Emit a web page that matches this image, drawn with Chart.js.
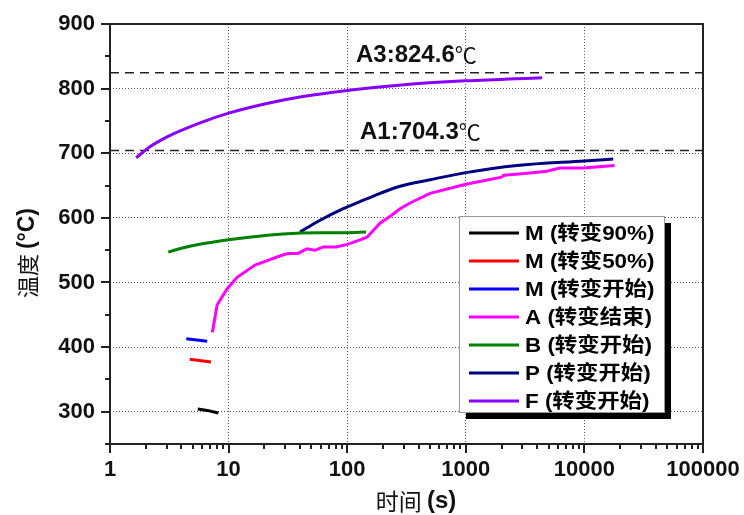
<!DOCTYPE html>
<html>
<head>
<meta charset="utf-8">
<script src="https://cdn.jsdelivr.net/npm/chart.js@4.4.1/dist/chart.umd.min.js"></script>
<style>
html, body { margin: 0; padding: 0; background: #fff; }
#wrap { width: 744px; height: 515px; }
</style>
</head>
<body>
<div id="wrap"><canvas id="c"></canvas></div>
<script>
// tick labels
const xTicks = [1, 10, 100, 1000, 10000, 100000];
const yTicks = [300, 400, 500, 600, 700, 800, 900];

// critical temperatures
const A3 = 824.6;
const A1 = 704.3;

// series (time s, temperature °C)
const m90Time = [5.5, 6.6, 8.2];
const m90Temp = [304, 302, 298];
const m50Time = [4.7, 7.1];
const m50Temp = [381, 377];
const msTime = [4.4, 6.6];
const msTemp = [413, 409];
const aTime = [7.3, 8.0, 9.7, 11.8, 16.7, 22, 27, 31.8, 38.5, 45.7, 53.7, 63, 81, 100, 120, 147, 190, 229, 279, 339, 500, 1000, 2000, 2100, 3300, 4800, 6200, 9800, 18000];
const aTemp = [423, 465, 490, 508, 527, 535, 541, 545, 545, 552, 550, 555, 555, 559, 564, 570, 592, 602, 614, 623, 638, 652, 663, 666, 669, 672, 677, 677, 681];
const bTime = [3.1, 4, 5.7, 10, 15, 28.7, 56, 100, 144];
const bTemp = [547, 553, 559, 566, 570, 575, 577, 577, 578];
const pTime = [40, 56, 87, 128, 190, 279, 500, 1000, 2700, 10000, 17500];
const pTemp = [578, 594, 612, 625, 638, 649, 659, 670, 681, 688, 691];
const fTime = [1.66, 2.17, 3.0, 5.75, 10, 21, 40, 100, 300, 1000, 4400];
const fTemp = [693, 710, 725, 747, 762, 777, 787, 797, 806, 812, 817];

const labels = ['M (转变90%)', 'M (转变50%)', 'M (转变开始)', 'A (转变结束)', 'B (转变开始)', 'P (转变开始)', 'F (转变开始)'];
const colors = ['#000000', '#ff0000', '#0000ff', '#ff00ff', '#008000', '#000080', '#8800ff'];
const times = [m90Time, m50Time, msTime, aTime, bTime, pTime, fTime];
const temps = [m90Temp, m50Temp, msTemp, aTemp, bTemp, pTemp, fTemp];

const pts = (xs, ys) => xs.map((x, i) => ({ x: x, y: ys[i] }));

const datasets = labels.map((lab, i) => ({
    label: lab,
    data: pts(times[i], temps[i]),
    borderColor: colors[i],
    borderWidth: 3,
    pointRadius: 0,
    fill: false,
    tension: 0,
    cubicInterpolationMode: (i === 5 || i === 6 || i === 4) ? 'monotone' : 'default'
}));

// dashed A3 / A1 lines
[A3, A1].forEach(v => {
    datasets.push({
        label: 'crit',
        data: pts([1, 100000], [v, v]),
        borderColor: '#222',
        borderWidth: 1.6,
        borderDash: [9, 6],
        pointRadius: 0,
        fill: false
    });
});

const decor = {
    id: 'decor',
    afterDraw(chart) {
        const ctx = chart.ctx;
        const a = chart.chartArea;
        const xs = chart.scales.x, ys = chart.scales.y;
        ctx.save();

        // frame
        ctx.strokeStyle = '#222';
        ctx.lineWidth = 2;
        ctx.strokeRect(a.left, a.top, a.right - a.left, a.bottom - a.top);

        // tick marks
        ctx.lineWidth = 2;
        ctx.beginPath();
        for (let v = 250; v <= 900; v += 50) {
            const y = Math.round(ys.getPixelForValue(v));
            const len = v % 100 === 0 ? 9 : 5;
            ctx.moveTo(a.left - len, y);
            ctx.lineTo(a.left, y);
        }
        for (let d = 1; d < 100000; d *= 10) {
            for (let k = 1; k <= 10; k++) {
                const x = Math.round(xs.getPixelForValue(d * k));
                const len = (k === 1 || k === 10) ? 9 : 5;
                ctx.moveTo(x, a.bottom);
                ctx.lineTo(x, a.bottom + len);
            }
        }
        ctx.stroke();

        // annotations
        ctx.fillStyle = '#111';
        ctx.textBaseline = 'middle';
        ctx.textAlign = 'left';
        [['A3:824.6', 356, 55], ['A1:704.3', 360, 132]].forEach(t => {
            ctx.font = 'bold 24px Arial, "Liberation Sans"';
            ctx.fillText(t[0], t[1], t[2]);
            const w = ctx.measureText(t[0]).width;
            ctx.font = '22px "Noto Sans CJK SC"';
            ctx.fillText('℃', t[1] + w, t[2]);
        });

        // legend
        const lx = 459, ly = 216, lw = 205, lh = 196;
        ctx.fillStyle = '#000';
        ctx.fillRect(lx + 7, ly + 7, lw, lh);
        ctx.fillStyle = '#fff';
        ctx.fillRect(lx, ly, lw, lh);
        ctx.strokeStyle = '#999';
        ctx.lineWidth = 1;
        ctx.strokeRect(lx + 0.5, ly + 0.5, lw, lh);
        labels.forEach((lab, i) => {
            const y = 233 + 28 * i;
            ctx.strokeStyle = colors[i];
            ctx.lineWidth = 3;
            ctx.beginPath();
            ctx.moveTo(469, y);
            ctx.lineTo(519, y);
            ctx.stroke();
            ctx.save();
            ctx.translate(525, y + 1);
            ctx.scale(1.12, 1);
            ctx.fillStyle = '#000';
            ctx.font = 'bold 20px Arial, "Noto Sans CJK SC"';
            ctx.fillText(lab, 0, 0);
            ctx.restore();
        });

        // axis titles
        const title = (parts, cx, cy, rot) => {
            ctx.save();
            ctx.translate(cx, cy);
            ctx.rotate(rot);
            let total = 0;
            parts.forEach(p => { ctx.font = p[1]; total += ctx.measureText(p[0]).width; });
            let x = -total / 2;
            ctx.fillStyle = '#111';
            ctx.textAlign = 'left';
            ctx.textBaseline = 'middle';
            parts.forEach(p => {
                ctx.font = p[1];
                ctx.fillText(p[0], x, 0);
                x += ctx.measureText(p[0]).width;
            });
            ctx.restore();
        };
        title([['温度 ', '22px "Noto Sans CJK SC"'], ['(°C)', 'bold 23px Arial']], 28, 253, -Math.PI / 2);
        title([['时间 ', '23px "Noto Sans CJK SC"'], ['(s)', 'bold 24px Arial']], 416, 501, 0);

        ctx.restore();
    }
};

new Chart(document.getElementById('c'), {
    type: 'line',
    data: { datasets: datasets },
    options: {
        responsive: true,
        maintainAspectRatio: false,
        animation: false,
        devicePixelRatio: 1,
        layout: { padding: { top: 24, right: 41, left: 0, bottom: 0 } },
        plugins: { legend: { display: false }, tooltip: { enabled: false } },
        scales: {
            x: {
                type: 'logarithmic',
                min: 1,
                max: 100000,
                afterBuildTicks: s => { s.ticks = xTicks.map(v => ({ value: v })); },
                afterFit: s => { s.height = 71; s.paddingLeft = 0; s.paddingRight = 0; },
                ticks: {
                    callback: v => String(v),
                    font: { family: 'Arial', size: 22, weight: 'bold' },
                    color: '#111',
                    padding: 13,
                    maxRotation: 0,
                    autoSkip: false
                },
                grid: {
                    drawTicks: false,
                    color: c => (c.tick && (c.tick.value === 1 || c.tick.value === 100000)) ? 'rgba(0,0,0,0)' : '#555',
                    lineWidth: 1
                },
                border: { display: false, dash: [1, 2] }
            },
            y: {
                type: 'linear',
                min: 250,
                max: 900,
                afterBuildTicks: s => { s.ticks = yTicks.map(v => ({ value: v })); },
                afterFit: s => { s.width = 110; s.paddingTop = 0; s.paddingBottom = 0; },
                ticks: {
                    font: { family: 'Arial', size: 22, weight: 'bold' },
                    color: '#111',
                    padding: 15
                },
                grid: {
                    drawTicks: false,
                    color: c => (c.tick && c.tick.value === 900) ? 'rgba(0,0,0,0)' : '#555',
                    lineWidth: 1
                },
                border: { display: false, dash: [1, 2] }
            }
        }
    },
    plugins: [decor]
});
</script>
</body>
</html>
